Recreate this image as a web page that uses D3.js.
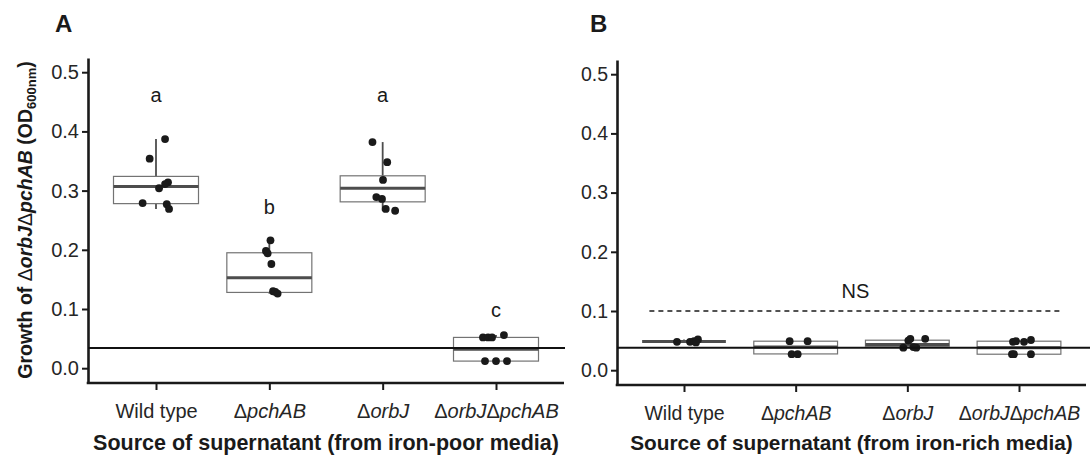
<!DOCTYPE html>
<html>
<head>
<meta charset="utf-8">
<script src="https://cdn.jsdelivr.net/npm/d3@7"></script>
<style>
    body { margin: 0; background: #fff; }
    svg { font-family: "Liberation Sans", Arial, Helvetica, sans-serif; }
</style>
</head>
<body>
<div id="chart"></div>
<script>
// categories on the x axis (text after a delta is drawn in italics)
var categories = ["Wild type", "\u0394pchAB", "\u0394orbJ", "\u0394orbJ\u0394pchAB"];
var yTicks = [0, 0.1, 0.2, 0.3, 0.4, 0.5];

// panel A: supernatant from iron-poor media, one list of replicates per strain
var poorValues = [
    [0.387, 0.354, 0.314, 0.311, 0.304, 0.279, 0.277, 0.269],
    [0.216, 0.198, 0.194, 0.176, 0.130, 0.129, 0.126],
    [0.382, 0.348, 0.318, 0.289, 0.286, 0.269, 0.266],
    [0.052, 0.052, 0.052, 0.056, 0.012, 0.012, 0.012]
];
// horizontal jitter of each replicate, in category widths
var poorJitter = [
    [0.08, -0.056, 0.106, 0.08, 0.027, -0.118, 0.095, 0.115],
    [0.01, -0.03, -0.015, 0.018, 0.033, 0.053, 0.073],
    [-0.09, 0.04, 0.003, -0.056, -0.006, 0.027, 0.11],
    [-0.115, -0.07, -0.035, 0.07, -0.097, 0, 0.097]
];
// box stats: q1, median, q3, lower whisker, upper whisker
var poorBoxes = [
    [0.278, 0.307, 0.324, 0.269, 0.387],
    [0.128, 0.153, 0.195, 0.126, 0.216],
    [0.281, 0.304, 0.325, 0.266, 0.382],
    [0.012, 0.032, 0.052, 0.012, 0.056]
];
var poorLetters = ["a", "b", "a", "c"];
var poorLetterY = [0.450, 0.260, 0.450, 0.087];
var poorBaseline = 0.034;

// panel B: supernatant from iron-rich media
var richValues = [
    [0.048, 0.048, 0.049, 0.052, 0.047],
    [0.049, 0.049, 0.027, 0.027],
    [0.053, 0.050, 0.053, 0.038, 0.038, 0.039],
    [0.048, 0.049, 0.048, 0.051, 0.027, 0.027, 0.027]
];
var richJitter = [
    [-0.063, 0.054, 0.09, 0.125, 0.107],
    [-0.054, 0.107, -0.036, 0.018],
    [0.027, 0.009, 0.16, -0.036, 0.08, 0.054],
    [-0.054, -0.027, 0.045, 0.107, -0.063, -0.045, 0.107]
];
var richBoxes = [
    [0.0485, 0.0485, 0.0485, 0.047, 0.052],
    [0.0275, 0.039, 0.049, 0.027, 0.049],
    [0.0405, 0.0434, 0.0507, 0.038, 0.053],
    [0.027, 0.038, 0.049, 0.027, 0.051]
];
var richBaseline = 0.038;
var nsLevel = 0.1;
var nsSpan = [0.69, 4.38];
var nsLabelY = 0.122;

(function (window, undefined) {

    var boxPanel = function(svg, opts){
        //interface variables
        this.svg = svg;
        this.opts = opts;
        this.g = svg.append("g").attr("class", "boxPanel");

        this.setScales();
        this.drawAxes();
        this.drawBoxes();
        this.drawExtras();
    }

    boxPanel.prototype.setScales = function(){
        var o = this.opts;
        //define the scales
        this.x = d3.scalePoint()
                .domain(categories)
                .range([o.left, o.right])
                .padding(0.6);
        this.y = d3.scaleLinear()
                .domain([-0.025, 0.524])
                .range([o.bottom, o.top]);
    }

    // position along x in category units (1 = first category)
    boxPanel.prototype.xAt = function(pos){
        return this.x(categories[0]) + (pos - 1) * this.x.step();
    }

    boxPanel.prototype.drawAxes = function(){
        var thisObj = this;
        var o = this.opts;

        var yAxis = d3.axisLeft(this.y)
                .tickValues(yTicks)
                .tickFormat(d3.format(".1f"))
                .tickSize(6)
                .tickSizeOuter(0)
                .tickPadding(3);
        var xAxis = d3.axisBottom(this.x)
                .tickSize(7)
                .tickSizeOuter(0)
                .tickPadding(14);

        var gy = this.g.append("g")
            .attr("class", "y axis")
            .attr("transform", "translate(" + o.left + ",0)")
            .call(yAxis);
        var gx = this.g.append("g")
            .attr("class", "x axis")
            .attr("transform", "translate(0," + o.bottom + ")")
            .call(xAxis);

        [gx, gy].forEach(function(ax){
            ax.select(".domain").attr("stroke", "#1a1a1a").attr("stroke-width", 2.6);
            ax.selectAll(".tick line").attr("stroke", "#1a1a1a").attr("stroke-width", 2);
            ax.selectAll(".tick text")
                .attr("fill", "#262626")
                .style("font-size", o.labelSize + "px");
        });
        // x axis line reaches back to the y axis
        gx.select(".domain").attr("d", "M" + (o.left - 1.3) + ",0H" + o.right);

        //italic strain names after the delta
        gx.selectAll(".tick text").each(function(d){
            var t = d3.select(this).text("");
            var parts = d.split("\u0394");
            if (parts[0] != "") t.append("tspan").text(parts[0]);
            for (var i = 1; i < parts.length; i++){
                t.append("tspan").text("\u0394");
                t.append("tspan").style("font-style", "italic").text(parts[i]);
            }
        });

        //axis title
        this.g.append("text")
            .attr("x", (o.left + o.right) / 2)
            .attr("y", 450)
            .attr("text-anchor", "middle")
            .attr("fill", "#1a1a1a")
            .style("font-size", o.titleSize + "px")
            .style("font-weight", "bold")
            .text(o.xTitle);

        //panel letter
        this.g.append("text")
            .attr("x", o.letterX)
            .attr("y", 32)
            .attr("fill", "#1a1a1a")
            .style("font-size", "24px")
            .style("font-weight", "bold")
            .text(o.letter);
    }

    boxPanel.prototype.drawBoxes = function(){
        var thisObj = this;
        var x = this.x, y = this.y;
        var boxW = x.step() * 0.75;

        var groups = this.g.selectAll(".boxGroup")
            .data(this.opts.boxes)
            .enter().append("g")
            .attr("class", "boxGroup");

        //whiskers
        groups.append("line")
            .attr("x1", function(d, i){ return x(categories[i]); })
            .attr("x2", function(d, i){ return x(categories[i]); })
            .attr("y1", function(d){ return y(d[3]); })
            .attr("y2", function(d){ return y(d[4]); })
            .attr("stroke", "#4d4d4d")
            .attr("stroke-width", 1.8);

        //box
        groups.append("rect")
            .attr("x", function(d, i){ return x(categories[i]) - boxW / 2; })
            .attr("width", boxW)
            .attr("y", function(d){ return y(d[2]); })
            .attr("height", function(d){ return y(d[0]) - y(d[2]); })
            .attr("fill", "#fff")
            .attr("stroke", "#737373")
            .attr("stroke-width", 1.2);

        //median
        groups.append("line")
            .attr("x1", function(d, i){ return x(categories[i]) - boxW / 2; })
            .attr("x2", function(d, i){ return x(categories[i]) + boxW / 2; })
            .attr("y1", function(d){ return y(d[1]); })
            .attr("y2", function(d){ return y(d[1]); })
            .attr("stroke", "#4d4d4d")
            .attr("stroke-width", 3);

        //jittered replicates
        var pts = [];
        this.opts.values.forEach(function(vals, i){
            vals.forEach(function(v, j){
                pts.push({cat: categories[i], v: v, jit: thisObj.opts.jitter[i][j]});
            });
        });
        this.g.selectAll(".dot")
            .data(pts)
            .enter().append("circle")
            .attr("class", "dot")
            .attr("cx", function(d){ return x(d.cat) + d.jit * x.step(); })
            .attr("cy", function(d){ return y(d.v); })
            .attr("r", 3.9)
            .attr("fill", "#1a1a1a");
    }

    boxPanel.prototype.drawExtras = function(){
        var thisObj = this;
        var o = this.opts;
        var x = this.x, y = this.y;

        //reference line (growth without supernatant)
        this.g.append("line")
            .attr("x1", o.left)
            .attr("x2", o.lineEnd)
            .attr("y1", y(o.baseline))
            .attr("y2", y(o.baseline))
            .attr("stroke", "#111")
            .attr("stroke-width", 2);

        if (o.letters){
            this.g.selectAll(".sigLetter")
                .data(o.letters)
                .enter().append("text")
                .attr("class", "sigLetter")
                .attr("x", function(d, i){ return x(categories[i]); })
                .attr("y", function(d, i){ return y(o.letterY[i]); })
                .attr("text-anchor", "middle")
                .attr("fill", "#1a1a1a")
                .style("font-size", "20px")
                .text(function(d){ return d; });
        }

        if (o.ns){
            this.g.append("line")
                .attr("x1", thisObj.xAt(nsSpan[0]))
                .attr("x2", thisObj.xAt(nsSpan[1]))
                .attr("y1", y(nsLevel))
                .attr("y2", y(nsLevel))
                .attr("stroke", "#1a1a1a")
                .attr("stroke-width", 1.4)
                .attr("stroke-dasharray", "5,4");
            this.g.append("text")
                .attr("x", thisObj.xAt((nsSpan[0] + nsSpan[1]) / 2))
                .attr("y", y(nsLabelY))
                .attr("text-anchor", "middle")
                .attr("fill", "#1a1a1a")
                .style("font-size", "20px")
                .text("NS");
        }
    }

    window.boxPanel = boxPanel;
})(window)

var svg = d3.select("#chart").append("svg")
    .attr("width", 1090)
    .attr("height", 459);

new boxPanel(svg, {
    left: 88, right: 564, top: 58, bottom: 383, lineEnd: 565,
    values: poorValues, jitter: poorJitter, boxes: poorBoxes,
    baseline: poorBaseline, letters: poorLetters, letterY: poorLetterY,
    letter: "A", letterX: 55, labelSize: 20, titleSize: 21.5,
    xTitle: "Source of supernatant (from iron-poor media)"
});

new boxPanel(svg, {
    left: 617, right: 1086, top: 60, bottom: 385, lineEnd: 1090,
    values: richValues, jitter: richJitter, boxes: richBoxes,
    baseline: richBaseline, ns: true,
    letter: "B", letterX: 590, labelSize: 19.5, titleSize: 20.8,
    xTitle: "Source of supernatant (from iron-rich media)"
});

//shared y axis title
var yTitle = svg.append("text")
    .attr("transform", "translate(32,220) rotate(-90)")
    .attr("text-anchor", "middle")
    .attr("fill", "#1a1a1a")
    .style("font-size", "19.5px")
    .style("font-weight", "bold");
yTitle.append("tspan").text("Growth of ");
yTitle.append("tspan").style("font-weight", "normal").text("\u0394");
yTitle.append("tspan").style("font-style", "italic").text("orbJ");
yTitle.append("tspan").style("font-weight", "normal").text("\u0394");
yTitle.append("tspan").style("font-style", "italic").text("pchAB");
yTitle.append("tspan").text(" (OD");
yTitle.append("tspan").attr("dy", 4).style("font-size", "13px").text("600nm");
yTitle.append("tspan").attr("dy", -4).text(")");
</script>
</body>
</html>
